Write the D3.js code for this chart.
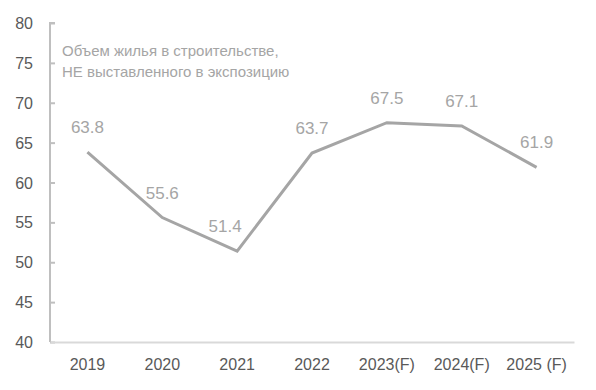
<!DOCTYPE html>
<head>
    <meta charset="utf-8">
    <script src="https://d3js.org/d3.v7.min.js"></script>
    <style>
        body { margin: 0; background: #fff; }
        text { font-family: "Liberation Sans", Arial, sans-serif; }
    </style>
</head>
<body>
<script>
    const years = ["2019", "2020", "2021", "2022", "2023(F)", "2024(F)", "2025 (F)"];
    const values = [63.8, 55.6, 51.4, 63.7, 67.5, 67.1, 61.9];
    const yTicks = [40, 45, 50, 55, 60, 65, 70, 75, 80];
    const noteLines = ["Объем жилья в строительстве,", "НЕ выставленного в экспозицию"];

    const width = 596, height = 390;

    const x = d3.scaleBand().domain(years).range([50, 574]);
    const y = d3.scaleLinear().domain([40, 80]).range([342, 23]);

    const svg = d3.select("body").append("svg")
        .attr("width", width)
        .attr("height", height);

    // y axis
    const yAxis = svg.append("g")
        .attr("transform", "translate(50,0)")
        .call(d3.axisLeft(y).tickValues(yTicks).tickSize(-5).tickPadding(17));
    yAxis.select(".domain").attr("stroke", "#bfbfbf").attr("stroke-width", 2)
        .attr("d", `M5,${y(80)}H0V${y(40)}`);
    yAxis.selectAll(".tick line").attr("stroke", "#bfbfbf").attr("stroke-width", 2);
    yAxis.selectAll(".tick text").attr("fill", "#595959").style("font-size", "16px")
        .attr("dy", "0.35em");

    // x axis
    const xAxis = svg.append("g")
        .attr("transform", `translate(0,${y(40)})`)
        .call(d3.axisBottom(x).tickSize(0).tickPadding(17));
    xAxis.select(".domain").attr("stroke", "#d9d9d9").attr("stroke-width", 2);
    xAxis.selectAll(".tick text").attr("fill", "#595959").style("font-size", "16px");

    const cx = d => x(d) + x.bandwidth() / 2;

    svg.append("path")
        .datum(values)
        .attr("fill", "none")
        .attr("stroke", "#a5a5a5")
        .attr("stroke-width", 3)
        .attr("d", d3.line().x((d, i) => cx(years[i])).y(d => y(d)));

    // 2021 label sits a little to the left so it clears the rising line
    svg.selectAll(".lbl")
        .data(values)
        .join("text")
        .attr("class", "lbl")
        .attr("x", (d, i) => cx(years[i]) + (i === 2 ? -12 : 0))
        .attr("y", d => y(d) - 25)
        .attr("dy", "0.35em")
        .attr("text-anchor", "middle")
        .attr("fill", "#a5a5a5")
        .style("font-size", "17px")
        .text(d => d.toFixed(1));

    svg.selectAll(".note")
        .data(noteLines)
        .join("text")
        .attr("class", "note")
        .attr("x", 62)
        .attr("y", (d, i) => 56 + i * 21)
        .attr("fill", "#a5a5a5")
        .style("font-size", "15px")
        .text(d => d);
</script>
</body>
